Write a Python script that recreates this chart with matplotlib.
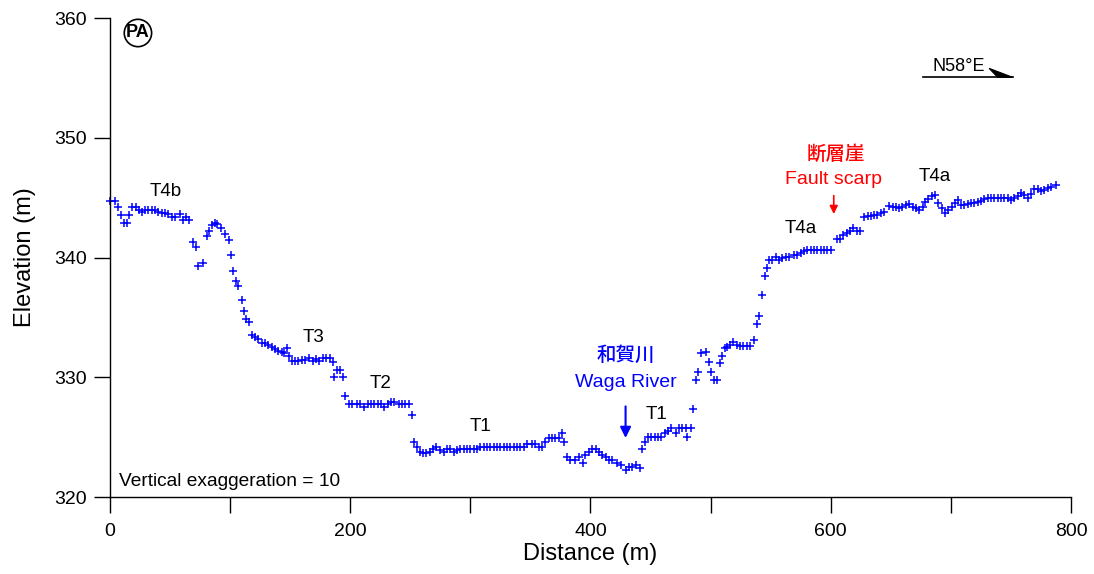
import matplotlib
matplotlib.use("Agg")
import matplotlib.pyplot as plt
import numpy as np
from matplotlib.patches import Polygon

plt.rcParams['font.family'] = ['Liberation Sans', 'Noto Sans CJK JP', 'DejaVu Sans']

# profile points: distance (m), elevation (m)
dist = [0, 4.2, 7.0, 8.9, 11.7, 13.9, 16.1, 18.0, 21.7, 24.4, 26.4, 29.2, 31.9, 34.7, 37.5,
        40.3, 43.1, 45.8, 48.6, 51.4, 54.2, 58.3, 60.5, 63.3, 66.1, 69.4, 71.7, 73.6, 77.8,
        80.6, 82.8, 84.7, 87.4, 89.4, 92.2, 95.8, 99.2, 100.6, 102.8, 104.7, 106.9, 109.7,
        111.7, 113.1, 115.8,
        118.1, 120.8, 123.6, 126.4, 129.2, 131.9, 134.7, 137.5, 140.3, 143.1, 145.0, 147.2, 149.4,
        151.4, 154.2, 156.9, 159.7, 162.5, 165.3, 168.9, 171.7, 174.4, 177.2, 180.0, 182.8, 185.6,
        186.9, 188.9, 191.7, 194.4, 195.8,
        198.6, 201.4, 205.6, 208.3, 211.7, 214.4, 217.2, 220.0, 222.8, 225.6, 228.3, 231.1,
        233.9, 236.7, 240.3, 243.1, 245.8, 248.6,
        251.4, 253.3, 255.6,
        257.8, 260.6, 263.3, 266.1, 268.9, 271.7, 274.4, 277.8, 280.6, 283.3, 286.1, 288.9,
        291.7, 294.4, 297.2, 300.0, 302.8, 305.6, 308.3, 311.1, 313.9, 316.7, 319.4, 322.2,
        325.0, 327.8, 330.6, 333.3, 336.1, 338.9, 341.7, 344.4, 347.2, 351.4, 354.2, 356.9,
        359.7, 362.5, 365.3, 368.1, 370.8, 373.6, 376.4, 378.3,
        380.6, 383.3, 386.7, 390.3, 393.9, 395.8, 398.6, 401.4, 404.2, 406.9, 409.7, 412.5,
        415.3, 418.1, 422.2, 425.0, 429.2, 431.9, 434.7, 437.5, 441.1,
        443.1, 445.0, 447.8, 450.6, 453.3, 456.1, 458.9, 461.7, 464.4, 467.2, 470.8, 473.6,
        476.4, 479.2, 480.6, 483.3, 485.3,
        487.5, 489.4, 491.7, 495.8, 498.6, 500.6, 502.8, 505.0, 507.8, 509.8, 511.7, 513.9,
        516.1, 518.9, 521.7, 524.4, 527.2, 530.0, 532.8, 536.1, 538.3, 540.3, 542.5, 545.0, 547.2,
        548.6, 551.4, 554.2, 556.9, 559.7, 562.5, 565.3, 569.4, 572.2, 575.0, 577.8, 580.6,
        583.3, 586.1, 588.9, 591.7, 594.4, 597.2, 600.0,
        605.0, 607.8, 610.6, 613.3, 616.1, 618.9, 621.7, 624.4,
        627.8, 630.6, 633.3, 636.1, 638.9, 641.7, 644.4, 648.6, 651.4, 654.2, 656.9, 659.7,
        662.5, 665.3, 668.1, 670.8, 673.6, 676.4, 678.3, 681.1, 683.9, 686.7, 689.4, 692.2,
        695.0, 697.8, 700.6, 703.3, 705.6, 708.3, 711.1, 713.9, 716.7, 719.4, 722.2, 725.0,
        727.8, 730.6, 733.3, 736.1, 738.9, 741.7, 744.4, 747.2, 750.0, 752.8, 755.6, 758.3,
        761.1, 763.9, 766.7, 769.4, 772.2, 775.0, 777.8, 780.6, 783.3, 787.5]

elev = [344.7, 344.7, 344.24, 343.55, 342.85, 342.85, 343.55, 344.24, 344.24, 344.0, 343.8,
        344.0, 344.0, 344.0, 344.0, 343.8, 343.7, 343.7, 343.6, 343.35, 343.35, 343.6, 343.13,
        343.35, 343.13, 341.3, 340.85, 339.3, 339.57, 341.8, 342.24, 342.7, 342.9, 342.8, 342.5,
        342.0, 341.5, 340.2, 338.9, 338.0, 337.6, 336.45, 335.56, 334.9, 334.6,
        333.53, 333.39, 333.17, 332.88, 332.88, 332.69, 332.55, 332.33, 332.21, 332.13, 332.0,
        332.41, 331.77,
        331.38, 331.38, 331.38, 331.44, 331.44, 331.58, 331.38, 331.5, 331.38, 331.58, 331.58,
        331.58, 331.3,
        330.0, 330.6, 330.6, 330.0, 328.43,
        327.74, 327.74, 327.74, 327.74, 327.54, 327.74, 327.74, 327.74, 327.74, 327.74, 327.54,
        327.74, 327.96, 327.96, 327.74, 327.74, 327.74, 327.74,
        326.85, 324.62, 324.2,
        323.78, 323.7, 323.7, 323.78, 323.98, 324.2, 323.92, 323.78, 323.98, 323.98, 323.78,
        323.92, 323.98, 323.98, 323.98, 323.98, 323.98, 323.98, 324.2, 324.2, 324.2, 324.2,
        324.2, 324.2, 324.2, 324.2, 324.2, 324.2, 324.2, 324.2, 324.2, 324.2, 324.43, 324.43,
        324.43, 324.2, 324.2, 324.62, 324.9, 324.9, 324.9, 324.9, 325.32, 324.62,
        323.31, 323.09, 323.09, 323.31, 322.81, 323.51, 323.78, 323.98, 323.98, 323.78, 323.51,
        323.31, 323.09, 323.09, 322.86, 322.67, 322.25, 322.53, 322.53, 322.67, 322.4,
        323.98, 324.62, 325.04, 325.04, 325.04, 325.04, 325.04, 325.32, 325.54, 325.74, 325.32,
        325.74, 325.74, 325.74, 325.04, 325.74, 327.32,
        329.77, 330.46, 332.0, 332.13, 331.3, 330.46, 329.77, 329.77, 331.16, 331.77, 332.42,
        332.5, 332.69, 332.97, 332.69, 332.61, 332.61, 332.61, 332.61, 333.11, 334.45, 335.11,
        336.87, 338.45, 339.1,
        339.79, 339.79, 340.07, 339.79, 339.93, 340.07, 340.07, 340.21, 340.21, 340.35, 340.57,
        340.63, 340.63, 340.63, 340.63, 340.63, 340.63, 340.63, 340.63,
        341.52, 341.52, 341.88, 342.07, 342.24, 342.44, 342.24, 342.24,
        343.36, 343.47, 343.47, 343.55, 343.55, 343.69, 343.83, 344.3, 344.24, 344.24, 344.1,
        344.24, 344.38, 344.47, 344.24, 344.1, 343.97, 344.24, 344.66, 344.86, 345.14, 345.22,
        344.58, 344.1, 343.69, 343.97, 344.24, 344.58, 344.8, 344.38, 344.38, 344.47, 344.52,
        344.58, 344.66, 344.74, 344.86, 344.94, 344.94, 344.94, 344.94, 344.94, 344.94, 344.94,
        344.8, 344.94, 345.14, 345.36, 345.22, 344.94, 345.3, 345.69, 345.69, 345.58, 345.64,
        345.78, 345.86, 346.05]

# terrace labels
terr_names = ['T4b', 'T3', 'T2', 'T1', 'T1', 'T4a', 'T4a']
terr_x = [46.7, 169.2, 225.0, 308.3, 455.0, 575.0, 686.7]
terr_y = [345.5, 333.3, 329.45, 325.85, 326.85, 342.4, 346.8]

fig = plt.figure(figsize=(10.94, 5.74), dpi=100)
ax = fig.add_axes([0.1005, 0.1341, 0.8785, 0.8345])

ax.plot(dist, elev, '+', color='#0000ff', markersize=6, markeredgewidth=1.1, clip_on=False)

ax.set_xlim(0, 800)
ax.set_ylim(320, 360)
ax.set_xticks([0, 200, 400, 600, 800])
ax.set_xticks([100, 300, 500, 700], minor=True)
ax.set_yticks([320, 330, 340, 350, 360])
ax.spines['top'].set_visible(False)
ax.spines['right'].set_visible(False)
for s in ['left', 'bottom']:
    ax.spines[s].set_linewidth(1.0)
ax.tick_params(axis='both', which='both', direction='out', length=11.5, width=1.0, labelsize=14)
ax.tick_params(axis='x', pad=7)
ax.tick_params(axis='y', pad=5)
ax.set_xlabel('Distance (m)', fontsize=17, labelpad=2.5)
ax.set_ylabel('Elevation (m)', fontsize=17, labelpad=13)

for name, tx, ty in zip(terr_names, terr_x, terr_y):
    ax.text(tx, ty, name, fontsize=13.5, ha='center', va='center')

# river
ax.text(429.2, 331.8, '和賀川', fontsize=14, color='#0000ff', ha='center', va='center',
        fontweight='medium')
ax.text(429.2, 329.6, 'Waga River', fontsize=14, color='#0000ff', ha='center', va='center')
ax.annotate('', xy=(429.2, 324.7), xytext=(429.2, 327.8),
            arrowprops=dict(arrowstyle='-|>', color='#0000ff', lw=1.5, mutation_scale=16))

# fault scarp
ax.text(604.2, 348.6, '断層崖', fontsize=14, color='#ff0000', ha='center', va='center',
        fontweight='medium')
ax.text(602.5, 346.5, 'Fault scarp', fontsize=14, color='#ff0000', ha='center', va='center')
ax.annotate('', xy=(602.5, 343.4), xytext=(602.5, 345.4),
            arrowprops=dict(arrowstyle='-|>', color='#ff0000', lw=1.2, mutation_scale=12))

ax.text(7.5, 321.3, 'Vertical exaggeration = 10', fontsize=13.8, ha='left', va='center')

# PA marker
ax.text(23.3, 358.75, 'PA', fontsize=13, fontweight='bold', ha='center', va='center',
        bbox=dict(boxstyle='circle,pad=0.1', fc='white', ec='black', lw=1.2))

# direction arrow
ax.plot([676.7, 751.4], [355.05, 355.05], color='black', lw=1.2)
ax.add_patch(Polygon([[731.8, 355.8], [751.4, 355.05], [738.9, 355.05]], closed=True,
                     fc='black', ec='black', lw=0.8))
ax.text(706.9, 355.95, 'N58°E', fontsize=13, ha='center', va='center')

fig.savefig('out.png', dpi=100)
